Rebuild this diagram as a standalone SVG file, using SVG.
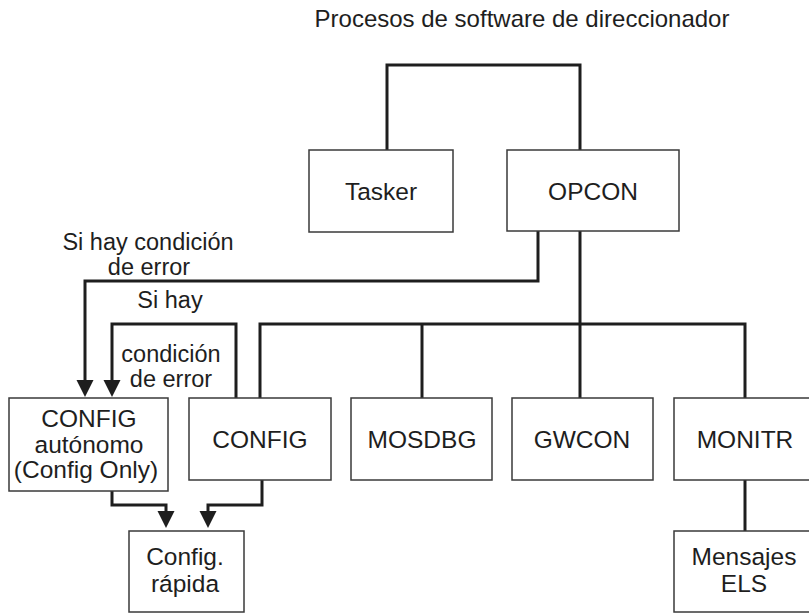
<svg xmlns="http://www.w3.org/2000/svg" width="809" height="613" viewBox="0 0 809 613">
<defs>
<style>
.box{fill:#fff;stroke:#3a3a3a;stroke-width:1.5}
.t{font-family:"Liberation Sans",Arial,sans-serif;font-size:23.5px;fill:#1e1e1e;text-anchor:middle}
.n{font-size:24.5px}
.c{fill:none;stroke:#1e1e1e;stroke-width:3;stroke-linejoin:miter}
</style>
<marker id="ah" markerUnits="userSpaceOnUse" markerWidth="18" markerHeight="18" refX="0" refY="8.5" orient="auto" viewBox="0 0 18 18">
<path d="M0,0 L17,8.5 L0,17 z" fill="#1e1e1e"/>
</marker>
</defs>
<rect width="809" height="613" fill="#fff"/>
<text class="t" x="522" y="27" style="font-size:24px">Procesos de software de direccionador</text>
<g id="connectors">
<path class="c" d="M387,150 V65 H580 V150"/>
<path class="c" d="M538,231 V281 H85 V380" marker-end="url(#ah)"/>
<path class="c" d="M236,398 V324 H112 V380" marker-end="url(#ah)"/>
<path class="c" d="M580,231 V398"/>
<path class="c" d="M260,398 V324 H745 V398"/>
<path class="c" d="M422,324 V398"/>
<path class="c" d="M745,480 V531"/>
<path class="c" d="M112,491 V505 H166 V511" marker-end="url(#ah)"/>
<path class="c" d="M262,480 V505 H208 V511" marker-end="url(#ah)"/>
</g>
<g id="labels">
<text class="t" x="148" y="250">Si hay condición</text>
<text class="t" x="149" y="275">de error</text>
<text class="t" x="170" y="308">Si hay</text>
<text class="t" x="171" y="362">condición</text>
<text class="t" x="171" y="387">de error</text>
</g>
<g id="tasker"><rect class="box" x="309" y="150" width="144" height="82"/><text class="t n" x="381" y="200">Tasker</text></g>
<g id="opcon"><rect class="box" x="507" y="150" width="172" height="81"/><text class="t n" x="593" y="200">OPCON</text></g>
<g id="config-autonomo"><rect class="box" x="9" y="398" width="159" height="93"/>
<text class="t n" x="89" y="427">CONFIG</text><text class="t n" x="89" y="453">autónomo</text><text class="t n" x="86" y="478">(Config Only)</text></g>
<g id="config"><rect class="box" x="189" y="398" width="142" height="82"/><text class="t n" x="260" y="448">CONFIG</text></g>
<g id="mosdbg"><rect class="box" x="351" y="398" width="141" height="82"/><text class="t n" x="422" y="448">MOSDBG</text></g>
<g id="gwcon"><rect class="box" x="512" y="398" width="141" height="82"/><text class="t n" x="582" y="448">GWCON</text></g>
<g id="monitr"><rect class="box" x="674" y="398" width="142" height="82"/><text class="t n" x="745" y="448">MONITR</text></g>
<g id="config-rapida"><rect class="box" x="129" y="531" width="115" height="81"/>
<text class="t n" x="185" y="565">Config.</text><text class="t n" x="185" y="592">rápida</text></g>
<g id="mensajes-els"><rect class="box" x="674" y="531" width="142" height="81"/>
<text class="t n" x="744" y="565">Mensajes</text><text class="t n" x="744" y="592">ELS</text></g>
</svg>
